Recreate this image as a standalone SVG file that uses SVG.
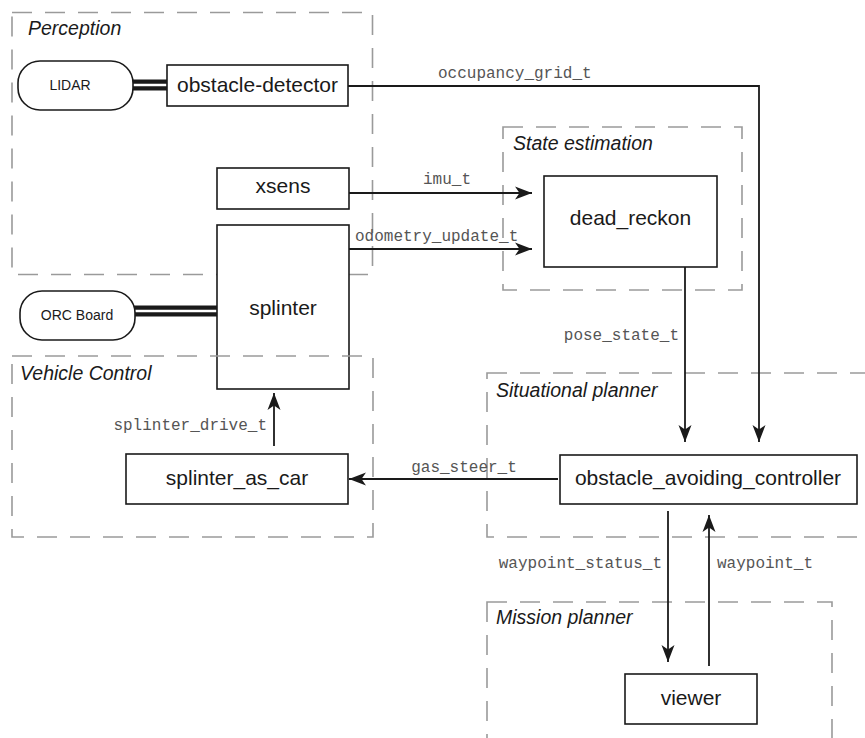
<svg xmlns="http://www.w3.org/2000/svg" width="865" height="738" viewBox="0 0 865 738">
<style>
.grp{fill:none;stroke:#9a9a9a;stroke-width:1.6;stroke-dasharray:20 13}
.box{fill:#fff;stroke:#1a1a1a;stroke-width:1.6}
.dev{fill:#fff;stroke:#1a1a1a;stroke-width:1.6}
.lbl{font-family:"Liberation Sans",Arial,sans-serif;font-size:21px;fill:#1a1a1a;text-anchor:middle}
.dlbl{font-family:"Liberation Sans",Arial,sans-serif;font-size:14px;fill:#1a1a1a;text-anchor:middle}
.title{font-family:"Liberation Sans",Arial,sans-serif;font-size:19.5px;font-style:italic;fill:#1a1a1a}
.msg{font-family:"Liberation Mono","Courier New",monospace;font-size:16px;fill:#555}
.edge{fill:none;stroke:#1a1a1a;stroke-width:1.8}
.wire{fill:none;stroke:#1a1a1a;stroke-width:11}
.wireg{fill:none;stroke:#fff;stroke-width:2.4}
</style>
<defs>
<marker id="ah" markerUnits="userSpaceOnUse" markerWidth="20" markerHeight="16" viewBox="-18 -8 20 16" refX="0" refY="0" orient="auto">
<path d="M0,0 L-17,-6.5 L-12.5,0 L-17,6.5 Z" fill="#1a1a1a"/>
</marker>
</defs>
<rect width="865" height="738" fill="#fff"/>

<g id="groups">
<g id="g-perception"><rect class="grp" x="12" y="12.5" width="360.5" height="262"/><text class="title" x="28" y="35">Perception</text></g>
<g id="g-state"><rect class="grp" x="503" y="127" width="239" height="163"/><text class="title" x="513" y="150">State estimation</text></g>
<g id="g-situational"><rect class="grp" x="487" y="373" width="400" height="164"/><text class="title" x="496" y="397">Situational planner</text></g>
<g id="g-mission"><rect class="grp" x="487" y="602" width="345" height="160"/><text class="title" x="496" y="624">Mission planner</text></g>
</g>

<g id="connectors">
<line class="wire" x1="132" y1="85" x2="168" y2="85"/>
<line class="wireg" x1="132" y1="85" x2="168" y2="85"/>
<line class="wire" x1="134" y1="311" x2="218" y2="311"/>
<line class="wireg" x1="134" y1="311" x2="218" y2="311"/>
<polyline class="edge" points="348,86 759,86 759,442" marker-end="url(#ah)"/>
<line class="edge" x1="349" y1="193" x2="532" y2="193" marker-end="url(#ah)"/>
<line class="edge" x1="349" y1="249" x2="532" y2="249" marker-end="url(#ah)"/>
<line class="edge" x1="685" y1="267" x2="685" y2="442" marker-end="url(#ah)"/>
<line class="edge" x1="274" y1="446" x2="274" y2="393" marker-end="url(#ah)"/>
<line class="edge" x1="558" y1="479" x2="349" y2="479" marker-end="url(#ah)"/>
<line class="edge" x1="668" y1="511" x2="668" y2="662" marker-end="url(#ah)"/>
<line class="edge" x1="709" y1="666" x2="709" y2="515" marker-end="url(#ah)"/>
<text class="msg" x="438" y="78">occupancy_grid_t</text>
<text class="msg" x="447" y="184" text-anchor="middle">imu_t</text>
<text class="msg" x="355" y="241">odometry_update_t</text>
<text class="msg" x="679" y="340" text-anchor="end">pose_state_t</text>
<text class="msg" x="267" y="430" text-anchor="end">splinter_drive_t</text>
<text class="msg" x="464" y="472" text-anchor="middle">gas_steer_t</text>
<text class="msg" x="662" y="568" text-anchor="end">waypoint_status_t</text>
<text class="msg" x="717" y="568">waypoint_t</text>
</g>

<g id="n-lidar"><rect class="dev" x="18" y="61" width="115" height="49" rx="22" ry="22"/><text class="dlbl" x="70" y="90">LIDAR</text></g>
<g id="n-orc"><rect class="dev" x="20" y="291" width="115" height="49" rx="22" ry="22"/><text class="dlbl" x="77" y="320">ORC Board</text></g>
<g id="n-obstacle-detector"><rect class="box" x="167" y="65" width="181" height="41"/><text class="lbl" x="257.5" y="92">obstacle-detector</text></g>
<g id="n-xsens"><rect class="box" x="217" y="168" width="132" height="41"/><text class="lbl" x="283" y="193">xsens</text></g>
<g id="n-splinter"><rect class="box" x="217" y="225" width="132" height="164"/><text class="lbl" x="283" y="315">splinter</text></g>
<g id="n-dead-reckon"><rect class="box" x="544" y="176" width="173" height="91"/><text class="lbl" x="630.5" y="225">dead_reckon</text></g>
<g id="n-splinter-as-car"><rect class="box" x="126" y="454" width="222" height="50"/><text class="lbl" x="237" y="485">splinter_as_car</text></g>
<g id="n-oac"><rect class="box" x="560" y="455" width="297" height="49"/><text class="lbl" x="708" y="485">obstacle_avoiding_controller</text></g>
<g id="n-viewer"><rect class="box" x="625" y="674" width="132" height="50"/><text class="lbl" x="691" y="705">viewer</text></g>

<g id="g-vehicle"><rect class="grp" x="12" y="356" width="361" height="181"/><text class="title" x="20" y="380">Vehicle Control</text></g>
</svg>
